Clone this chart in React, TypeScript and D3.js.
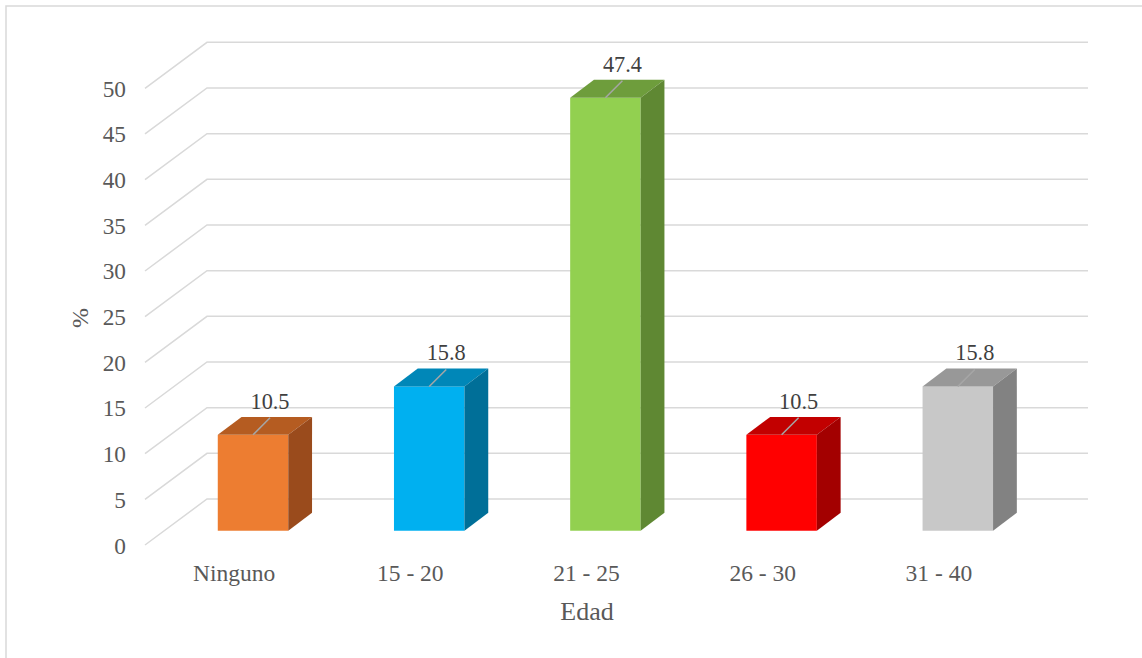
import React from "react";
import * as d3 from "d3";

const categories = ["Ninguno", "15 - 20", "21 - 25", "26 - 30", "31 - 40"];
const values = [10.5, 15.8, 47.4, 10.5, 15.8];
const yTicks = [0, 5, 10, 15, 20, 25, 30, 35, 40, 45, 50];
const frontColors = ["#ED7D31", "#00B0F0", "#92D050", "#FF0000", "#C8C8C8"];
const topColors = ["#B55C21", "#0087B8", "#6E9D3C", "#C20000", "#989898"];
const sideColors = ["#9A4B1C", "#006F98", "#5F8833", "#A30000", "#828282"];

const W = 1142;
const H = 658;
const DX = 61; // full depth x offset
const DY = 46; // full depth y offset
const Z0 = 0.31;
const Z1 = 0.7;
const SERIF = "'Liberation Serif', 'Times New Roman', serif";

export default function App() {
  const x = d3
    .scaleBand<string>()
    .domain(categories)
    .range([146, 1027])
    .paddingInner(0.6)
    .paddingOuter(0.3);
  const y = d3.scaleLinear().domain([0, 50]).range([545, 88.3]);
  const txt = "#595959";
  const grid = "#D9D9D9";
  const x0 = 146;
  const x1 = 1027;
  const fs = (size: number) => ({ fontFamily: SERIF, fontSize: size });

  return (
    <svg width={W} height={H} style={{ position: "absolute", left: 0, top: 0 }}>
      <rect x={0} y={0} width={W} height={H} fill="#fff" />
      <rect x={6} y={6} width={1300} height={800} fill="none" stroke="#D9D9D9" strokeWidth={1.5} />
      {yTicks.map((t) => (
        <g key={t}>
          <polyline
            points={`${x0 - 1},${y(t)} ${x0 + DX},${y(t) - DY} ${x1 + DX},${y(t) - DY}`}
            fill="none"
            stroke={grid}
            strokeWidth={1.5}
          />
          <text x={126} y={y(t) + 8.5} textAnchor="end" fill={txt} style={fs(23.3)}>
            {t}
          </text>
        </g>
      ))}
      {categories.map((c, i) => {
        const bx = x(c)!;
        const bw = x.bandwidth();
        const v = values[i];
        const fx0 = bx + Z0 * DX;
        const fx1 = fx0 + bw;
        const fyTop = y(v) - Z0 * DY;
        const fyBot = y(0) - Z0 * DY;
        const ddx = (Z1 - Z0) * DX;
        const ddy = (Z1 - Z0) * DY;
        const cx = (fx0 + fx1) / 2;
        return (
          <g key={c}>
            <rect x={fx0} y={fyTop} width={bw} height={fyBot - fyTop} fill={frontColors[i]} />
            <polygon
              points={`${fx0},${fyTop} ${fx0 + ddx},${fyTop - ddy} ${fx1 + ddx},${fyTop - ddy} ${fx1},${fyTop}`}
              fill={topColors[i]}
            />
            <polygon
              points={`${fx1},${fyTop} ${fx1 + ddx},${fyTop - ddy} ${fx1 + ddx},${fyBot - ddy} ${fx1},${fyBot}`}
              fill={sideColors[i]}
            />
            <line
              x1={cx}
              y1={fyTop}
              x2={cx + 17}
              y2={fyTop - 17}
              stroke="#A6A6A6"
              strokeWidth={1.5}
            />
            <text x={cx + 17} y={fyTop - 26} textAnchor="middle" fill="#404040" style={fs(22.3)}>
              {v.toFixed(1)}
            </text>
            <text x={bx + bw / 2} y={581} textAnchor="middle" fill={txt} style={fs(23.5)}>
              {c}
            </text>
          </g>
        );
      })}
      <text x={587} y={620} textAnchor="middle" fill={txt} style={fs(26)}>
        Edad
      </text>
      <text
        transform={`translate(88,318) rotate(-90)`}
        textAnchor="middle"
        fill={txt}
        style={fs(24)}
      >
        %
      </text>
    </svg>
  );
}
